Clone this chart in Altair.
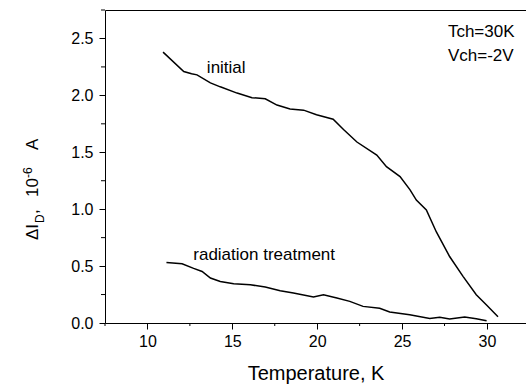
import altair as alt
import pandas as pd

# ---- data ----
init_T = [10.92, 12.14, 12.6, 12.92, 13.71, 14.29, 15.28, 16.16, 16.94, 17.63, 18.4, 19.2,
          19.96, 20.94, 21.55, 22.34, 23.51, 24.08, 24.88, 25.47, 25.84, 26.43, 27.02,
          27.8, 28.59, 29.37, 29.96, 30.65]
init_I = [2.38, 2.21, 2.19, 2.18, 2.11, 2.075, 2.02, 1.98, 1.97, 1.915, 1.88, 1.87,
          1.83, 1.79, 1.70, 1.59, 1.476, 1.374, 1.286, 1.17, 1.08, 0.994, 0.80,
          0.584, 0.41, 0.248, 0.16, 0.055]

rad_T = [11.12, 12.04, 12.72, 13.22, 13.71, 14.29, 15.08, 16.06, 16.94, 17.82, 18.6,
         19.78, 20.37, 21.16, 21.92, 22.7, 23.68, 24.27, 25.45, 26.63, 27.22, 27.8,
         28.69, 29.37, 29.98]
rad_I = [0.532, 0.52, 0.48, 0.453, 0.395, 0.365, 0.345, 0.336, 0.316, 0.283, 0.263,
         0.228, 0.248, 0.219, 0.19, 0.146, 0.13, 0.096, 0.073, 0.04, 0.05, 0.035,
         0.053, 0.038, 0.02]

label_text = ["initial", "radiation treatment", "Tch=30K", "Vch=-2V"]
label_T = [13.5, 12.7, 27.7, 27.7]
label_I = [2.24, 0.60, 2.555, 2.35]

x_major = [10, 15, 20, 25, 30]
x_minor = [7.5, 12.5, 17.5, 22.5, 27.5]
y_major = [0, 0.5, 1.0, 1.5, 2.0, 2.5]
y_minor = [0.25, 0.75, 1.25, 1.75, 2.25, 2.75]

W, H = 421, 313
FONT = "Liberation Sans"

lines_df = pd.DataFrame({
    "T": init_T + rad_T,
    "I": init_I + rad_I,
    "series": ["initial"] * len(init_T) + ["radiation"] * len(rad_T),
})
labels_df = pd.DataFrame({"T": label_T, "I": label_I, "text": label_text})

xscale = alt.Scale(domain=[7.5, 32.3], nice=False, zero=False)
yscale = alt.Scale(domain=[0, 2.75], nice=False, zero=True)

x_axis = alt.Axis(
    orient="bottom", values=x_major, grid=False, title="Temperature, K",
    tickSize=6, labelFontSize=16, titleFontSize=20, labelPadding=4, titlePadding=14,
    titleFontWeight="normal", labelColor="black", titleColor="black",
    domainColor="black", tickColor="black", labelFlush=False, format=".0f",
)
y_axis = alt.Axis(
    orient="left", values=y_major, grid=False, title=None, format=".1f",
    tickSize=6, labelFontSize=16, labelPadding=6, labelColor="black",
    domainColor="black", tickColor="black", labelFlush=False,
)

lines = alt.Chart(lines_df).mark_line(color="black", strokeWidth=1.5).encode(
    x=alt.X("T:Q", scale=xscale, axis=x_axis),
    y=alt.Y("I:Q", scale=yscale, axis=y_axis),
    detail="series:N",
)

labels = alt.Chart(labels_df).mark_text(
    align="left", baseline="middle", fontSize=17, color="black", font=FONT
).encode(
    x=alt.X("T:Q", scale=xscale,
            axis=alt.Axis(orient="top", labels=False, ticks=False, title=None,
                          grid=False, domainColor="black")),
    y=alt.Y("I:Q", scale=yscale),
    text="text:N",
)

# minor ticks
xminor = alt.Chart(pd.DataFrame({"T": x_minor})).mark_rule(color="black", strokeWidth=1).encode(
    x=alt.X("T:Q", scale=xscale, axis=None), y=alt.value(H), y2=alt.value(H + 3),
)
yminor = alt.Chart(pd.DataFrame({"I": y_minor})).mark_rule(color="black", strokeWidth=1).encode(
    y=alt.Y("I:Q", scale=yscale), x=alt.value(0), x2=alt.value(-4),
)

# y-axis title pieces (rotated, with subscript / superscript)
title_pieces = [
    ("ΔI", 17, -67, 230),
    ("D", 12, -61, 213),
    (",", 17, -67, 204),
    ("10", 17, -67, 187),
    ("-6", 12, -73, 168),
    ("A", 17, -67, 140),
]
ytitle_layers = []
for txt, fs, px, py in title_pieces:
    ytitle_layers.append(
        alt.Chart(pd.DataFrame({"t": [txt]})).mark_text(
            angle=270, align="left", baseline="alphabetic", fontSize=fs,
            color="black", font=FONT
        ).encode(x=alt.value(px), y=alt.value(py), text="t:N")
    )

chart = alt.layer(lines, labels, xminor, yminor, *ytitle_layers).properties(
    width=W, height=H,
    padding={"left": 105, "top": 10, "right": 0, "bottom": 63},
    autosize=alt.AutoSizeParams(type="none"),
).configure(font=FONT).configure_view(stroke=None)

chart.save("out.html", embed_options={"renderer": "svg", "actions": False})
